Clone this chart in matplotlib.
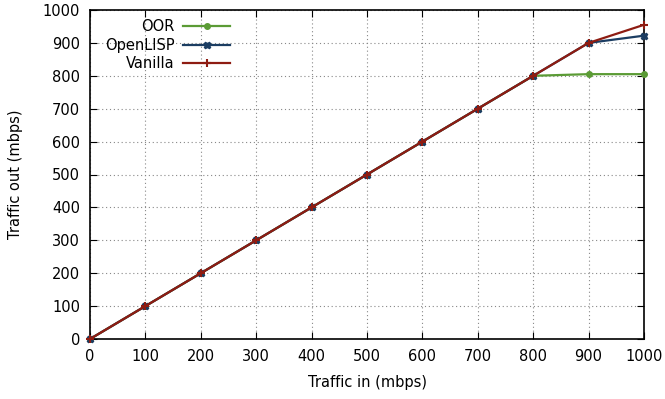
import matplotlib
matplotlib.use('Agg')
import matplotlib.pyplot as plt

traffic_in = [0, 100, 200, 300, 400, 500, 600, 700, 800, 900, 1000]
oor = [0, 100, 200, 300, 400, 500, 600, 700, 800, 805, 805]
openlisp = [0, 100, 200, 300, 400, 500, 600, 700, 800, 900, 922]
vanilla = [0, 100, 200, 300, 400, 500, 600, 700, 800, 900, 955]
ticks = [0, 100, 200, 300, 400, 500, 600, 700, 800, 900, 1000]

fig = plt.figure(figsize=(6.65, 3.99), dpi=100)
ax = fig.add_axes([90/665, 60/399, 554/665, 329/399])

ax.plot(traffic_in, oor, color='#5b9b35', lw=1.6, marker='o', ms=4, label='OOR', clip_on=False, zorder=3)
ax.plot(traffic_in, openlisp, color='#1b3d62', lw=1.6, marker='X', ms=5, label='OpenLISP', clip_on=False, zorder=4)
ax.plot(traffic_in, vanilla, color='#8e1c12', lw=1.6, marker='+', ms=6, mew=1.5, label='Vanilla', clip_on=False, zorder=5)

ax.set_xlim(0, 1000)
ax.set_ylim(0, 1000)
ax.set_xticks(ticks)
ax.set_yticks(ticks)
ax.tick_params(direction='in', length=5, top=True, right=True, labelsize=10.5, pad=7, color='black')
ax.grid(True, linestyle=(0, (1, 2.5)), color='#888888', lw=0.8)
for s in ax.spines.values():
    s.set_linewidth(1.2)
ax.set_xlabel('Traffic in (mbps)', fontsize=10.5, labelpad=8)
ax.set_ylabel('Traffic out (mbps)', fontsize=10.5, labelpad=14)

ax.legend(loc='upper left', bbox_to_anchor=(0.01, 1.0), frameon=False, markerfirst=False,
          fontsize=10.5, handlelength=3.2, labelspacing=0.22, borderaxespad=0.25, handletextpad=0.6)

fig.savefig('out.png', dpi=100)
